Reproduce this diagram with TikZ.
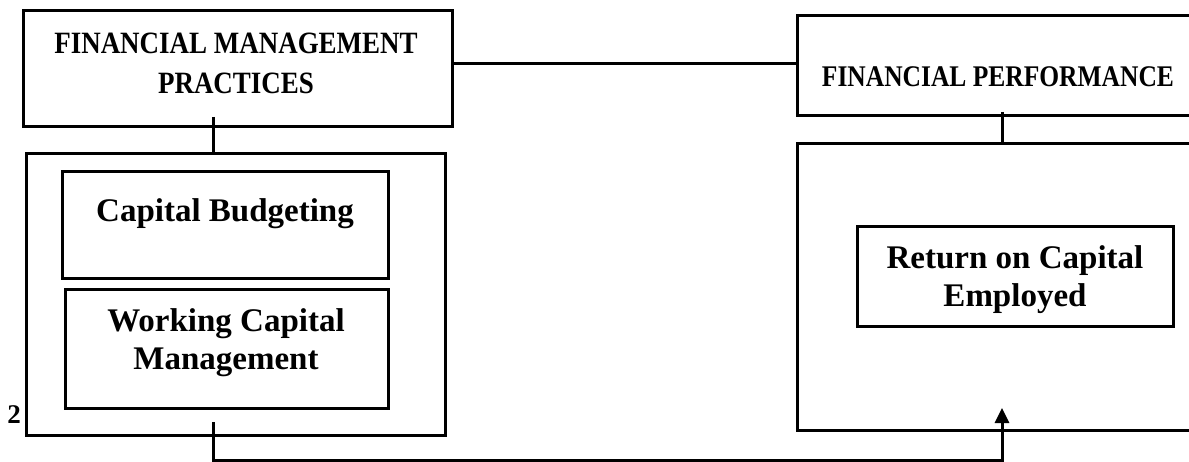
\documentclass[tikz,border=0pt]{standalone}
\usepackage{fontspec}
\setmainfont{Liberation Serif}
\newfontfamily\headfont[FakeStretch=0.87]{Liberation Serif}
\newfontfamily\perffont[FakeStretch=0.85]{Liberation Serif}
\usetikzlibrary{arrows.meta}
\begin{document}
\begin{tikzpicture}[x=1pt,y=-1pt,
  box/.style={draw, line width=3pt, rectangle, inner sep=0pt, outer sep=0pt},
  txt/.style={font=\bfseries\fontsize{33}{38}\selectfont, align=center, inner sep=0pt},
  head/.style={font=\headfont\bfseries\fontsize{31}{40}\selectfont, align=center, inner sep=0pt},
  link/.style={line width=3pt}]
\useasboundingbox (0,0) rectangle (1189,462);
\clip (0,0) rectangle (1189,462);
% boxes
\node[box, minimum width=429pt, minimum height=116pt] (fmp) at (237.5,69) {};
\node[box, minimum width=402pt, minimum height=100pt] (fp) at (998,66) {};
\node[box, minimum width=419pt, minimum height=281pt] (lout) at (235.5,294.5) {};
\node[box, minimum width=326pt, minimum height=107pt] (cb) at (225,225.5) {};
\node[box, minimum width=323pt, minimum height=118pt] (wcm) at (226.5,349) {};
\node[box, minimum width=423pt, minimum height=286pt] (rout) at (1008.5,287) {};
\node[box, minimum width=316pt, minimum height=100pt] (roce) at (1015,277) {};
% texts
\node[head] (fmpt) at (236,63) {FINANCIAL MANAGEMENT\\PRACTICES};
\node[head, font=\perffont\bfseries\fontsize{30}{36}\selectfont, anchor=base] (fpt) at (998,87) {FINANCIAL PERFORMANCE};
\node[txt, anchor=base] (cbt) at (225,222) {Capital Budgeting};
\node[txt] (wcmt) at (226,343) {Working Capital\\Management};
\node[txt] (rocet) at (1015,280) {Return on Capital\\Employed};
\node[font=\bfseries\fontsize{27}{30}\selectfont, anchor=base, inner sep=0pt] (two) at (14,423) {2};
% connectors
\coordinate (a2) at ([yshift=5pt]fmp.east);
\draw[link] (a2) -- (a2 -| fp.west);
\coordinate (a1) at (213,117);
\draw[link] (a1) -- (a1 |- lout.north);
\coordinate (b1) at (1002,112);
\draw[link] (b1) -- (b1 |- rout.north);
\coordinate (c1) at (213,422);
\coordinate (c2) at (213,460);
\coordinate (b2) at (1002,408);
\draw[link, line join=miter, -{Triangle[length=15pt,width=14pt]}] (c1) -- (c2) -| (b2);
\end{tikzpicture}
\end{document}
